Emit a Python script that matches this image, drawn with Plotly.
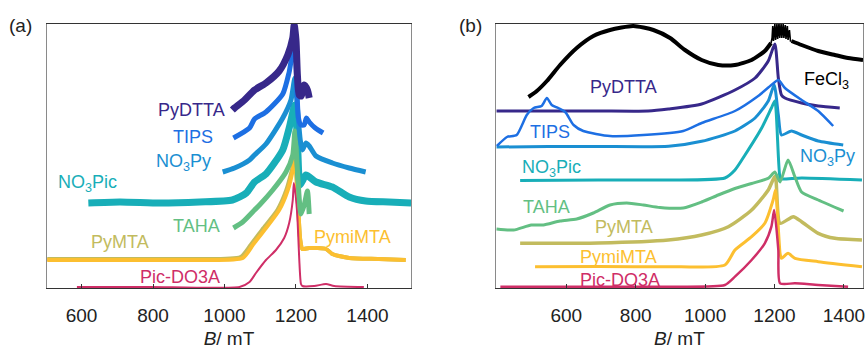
import plotly.graph_objects as go

# ---------------- Panel (a): field-swept spectra (B in mT, intensity in a.u., stacked) ----------------
a_pydtta_B = [1022, 1028, 1056, 1084, 1116, 1153, 1177, 1191, 1195, 1200, 1204, 1209, 1215, 1223, 1232, 1237]
a_pydtta_I = [178, 180, 188, 198, 205, 217, 233, 250, 263, 248, 213, 193, 192, 203, 198, 190]

a_tips_B = [1025, 1070, 1084, 1116, 1163, 1181, 1192, 1197, 1202, 1207, 1214, 1223, 1229, 1237, 1254, 1276]
a_tips_I = [150, 160, 169, 176, 194, 216, 236, 236, 203, 170, 163, 163, 170, 166, 160, 155]

a_no3py_B = [995, 1028, 1070, 1084, 1116, 1163, 1186, 1197, 1204, 1212, 1218, 1228, 1237, 1256, 1302, 1349, 1395]
a_no3py_I = [116, 120, 128, 133, 144, 170, 188, 210, 180, 148, 138, 145, 142, 132, 125, 120, 116]

a_no3pic_B = [619, 707, 819, 930, 1022, 1061, 1084, 1116, 1163, 1181, 1197, 1204, 1211, 1218, 1228, 1256, 1302, 1349, 1395, 1460, 1522]
a_no3pic_I = [85, 86, 85, 86, 88, 95, 106, 114, 138, 160, 183, 148, 103, 107, 113, 106, 101, 91, 87, 86, 85]

a_taha_B = [1025, 1051, 1084, 1098, 1135, 1172, 1191, 1197, 1204, 1214, 1223, 1232, 1237]
a_taha_I = [60, 66, 78, 83, 98, 116, 133, 157, 118, 74, 83, 97, 74]

a_pymta_B = [504, 651, 791, 930, 1045, 1073, 1109, 1148, 1173, 1190, 1197, 1205, 1212, 1218, 1237, 1284, 1302, 1349, 1432, 1507]
a_pymta_I = [29, 29, 29, 29, 31, 43, 60, 78, 98, 120, 131, 88, 48, 39, 40, 39, 34, 30, 29, 28]

a_pymimta_B = [504, 651, 791, 930, 1051, 1079, 1116, 1153, 1177, 1191, 1197, 1205, 1212, 1218, 1237, 1284, 1302, 1349, 1432, 1507]
a_pymimta_I = [28, 28, 28, 28, 30, 43, 60, 78, 98, 118, 132, 88, 48, 39, 40, 39, 34, 30, 29, 28]

a_picdo3a_B = [587, 791, 1042, 1070, 1088, 1116, 1144, 1167, 1181, 1191, 1194, 1199, 1204, 1209, 1214, 1218, 1251, 1284, 1307, 1390]
a_picdo3a_I = [1, 1, 1, 6, 15, 28, 38, 50, 65, 88, 105, 93, 71, 30, 4, 2, 2, 4, 2, 1]

# ---------------- Panel (b) ----------------
b_fecl3_B = [491, 515, 544, 582, 630, 678, 726, 793, 851, 899, 942, 990, 1038, 1086, 1134, 1172, 1190]
b_fecl3_I = [191, 197, 207, 223, 240, 252, 258, 262, 258, 250, 238, 228, 223, 223, 228, 237, 245]
# hyperfine spikes on top of the FeCl3 signal
b_fecl3_hf_B = [1190, 1193, 1195, 1197, 1201, 1203, 1207, 1209, 1213, 1215, 1219, 1221, 1225, 1227, 1231, 1233,
                1237, 1239, 1243, 1246, 1249]
b_fecl3_hf_I = [245, 250, 262, 247, 264, 248, 264, 249, 265, 250, 264, 250, 264, 250, 263, 249,
                262, 248, 258, 247, 247]
b_fecl3_tail_B = [1249, 1278, 1326, 1374, 1412, 1455]
b_fecl3_tail_I = [247, 243, 237, 233, 230, 228]

b_pydtta_B = [399, 549, 693, 836, 894, 990, 1086, 1144, 1182, 1201, 1211, 1220, 1230, 1278, 1326, 1388]
b_pydtta_I = [177, 177, 177, 177, 179, 184, 198, 210, 227, 244, 210, 193, 190, 185, 182, 180]

b_tips_B = [400, 429, 457, 486, 506, 529, 544, 558, 577, 597, 621, 649, 726, 822, 937, 990, 1086, 1153,
            1191, 1211, 1230, 1278, 1326, 1369]
b_tips_I = [142, 151, 153, 173, 180, 182, 190, 183, 180, 176, 163, 157, 152, 153, 157, 165, 177, 192,
            203, 208, 200, 188, 177, 162]

b_no3py_B = [399, 549, 693, 895, 990, 1086, 1144, 1182, 1199, 1211, 1220, 1249, 1278, 1326, 1398]
b_no3py_I = [141, 141.5, 141.5, 141.7, 146.7, 157, 170, 187, 203, 173, 153, 157, 153, 147, 143]

b_no3pic_B = [467, 693, 894, 1057, 1086, 1115, 1163, 1191, 1201, 1216, 1220, 1278, 1452]
b_no3pic_I = [107.5, 108, 108, 110, 118, 133, 160, 180, 187, 110, 109, 110, 108]

b_taha_B = [399, 448, 499, 534, 582, 630, 678, 726, 774, 822, 870, 937, 990, 1038, 1086, 1134, 1182,
            1201, 1216, 1239, 1259, 1278, 1326, 1399]
b_taha_I = [59, 58, 63, 63, 67, 69, 75, 83, 85, 83, 80.5, 80, 86, 93, 99.5, 104.5, 109.7,
            116, 106, 128, 111, 96, 88, 77]

b_pymta_B = [467, 693, 894, 990, 1067, 1134, 1182, 1202, 1216, 1254, 1278, 1326, 1374, 1452]
b_pymta_I = [44.7, 45, 48, 53, 61.3, 78, 98, 112, 64.7, 71.3, 66.3, 54.7, 49.7, 48]

b_pymimta_B = [510, 693, 894, 1057, 1086, 1134, 1172, 1196, 1203, 1216, 1220, 1239, 1259, 1326, 1452]
b_pymimta_I = [21.3, 21.5, 21.3, 23, 38, 51.3, 64.7, 88, 98, 34.7, 29.7, 34.7, 29.7, 26.3, 21.3]

b_picdo3a_B = [410, 693, 894, 1057, 1086, 1134, 1172, 1191, 1199, 1211, 1216, 1259, 1326, 1412]
b_picdo3a_I = [1.3, 1.3, 1.3, 3, 11.3, 28, 44.7, 61.3, 78, 38, 4.7, 4.7, 3, 1.3]

# Labels: (text, B, I)
a_labels = [("PyDTTA", 907, 178), ("TIPS", 912, 151), ("NO<sub>3</sub>Py", 884, 126),
            ("NO<sub>3</sub>Pic", 616, 105), ("TAHA", 921, 62), ("PyMTA", 707, 46),
            ("PymiMTA", 1358, 51), ("Pic-DO3A", 875, 11)]
b_labels = [("FeCl<sub>3</sub>", 1349, 208), ("PyDTTA", 764, 201), ("TIPS", 552, 156),
            ("NO<sub>3</sub>Pic", 557, 120), ("NO<sub>3</sub>Py", 1354, 131), ("TAHA", 543, 81),
            ("PyMTA", 767, 61), ("PymiMTA", 749, 31), ("Pic-DO3A", 754, 8)]

tick_vals = [600, 800, 1000, 1200, 1400]

colors = {
    "PyDTTA": "#37288a",
    "TIPS": "#1d6fe3",
    "NO3Py": "#1a8fd2",
    "NO3Pic": "#18aeb8",
    "TAHA": "#63bf83",
    "PyMTA": "#c2bb5e",
    "PymiMTA": "#fcbf30",
    "Pic-DO3A": "#cf2e67",
    "FeCl3": "#000000",
}
label_key = {"PyDTTA": "PyDTTA", "TIPS": "TIPS", "NO<sub>3</sub>Py": "NO3Py",
             "NO<sub>3</sub>Pic": "NO3Pic", "TAHA": "TAHA", "PyMTA": "PyMTA",
             "PymiMTA": "PymiMTA", "Pic-DO3A": "Pic-DO3A", "FeCl<sub>3</sub>": "FeCl3"}

fig = go.Figure()


def add(xs, ys, key, width, axis, shape="spline"):
    fig.add_trace(go.Scatter(
        x=xs, y=ys, mode="lines",
        line=dict(color=colors[key], width=width, shape=shape, smoothing=0.6),
        xaxis="x" if axis == 1 else "x2", yaxis="y" if axis == 1 else "y2",
        showlegend=False, hoverinfo="skip"))


# panel (a): draw bottom-up so upper traces overlay
add(a_pymta_B, a_pymta_I, "PyMTA", 4, 1)
add(a_pymimta_B, a_pymimta_I, "PymiMTA", 4, 1)
add(a_picdo3a_B, a_picdo3a_I, "Pic-DO3A", 2, 1)
add(a_no3pic_B, a_no3pic_I, "NO3Pic", 7, 1)
add(a_taha_B, a_taha_I, "TAHA", 5, 1)
add(a_no3py_B, a_no3py_I, "NO3Py", 5, 1)
add(a_tips_B, a_tips_I, "TIPS", 5, 1)
add(a_pydtta_B, a_pydtta_I, "PyDTTA", 7, 1)

# panel (b)
add(b_fecl3_B, b_fecl3_I, "FeCl3", 4, 2)
add(b_fecl3_hf_B, b_fecl3_hf_I, "FeCl3", 1.6, 2, shape="linear")
add(b_fecl3_tail_B, b_fecl3_tail_I, "FeCl3", 4, 2)
add(b_pydtta_B, b_pydtta_I, "PyDTTA", 3, 2)
add(b_no3py_B, b_no3py_I, "NO3Py", 3, 2)
add(b_tips_B, b_tips_I, "TIPS", 2.5, 2)
add(b_no3pic_B, b_no3pic_I, "NO3Pic", 3, 2)
add(b_pymta_B, b_pymta_I, "PyMTA", 3.5, 2)
add(b_taha_B, b_taha_I, "TAHA", 3, 2)
add(b_pymimta_B, b_pymimta_I, "PymiMTA", 3, 2)
add(b_picdo3a_B, b_picdo3a_I, "Pic-DO3A", 2.5, 2)

FONT = "Liberation Sans, Arial, sans-serif"
annotations = []
for labels, ax in ((a_labels, 1), (b_labels, 2)):
    for text, bx, iy in labels:
        key = label_key[text]
        annotations.append(dict(
            text=text, x=bx, y=iy,
            xref="x" if ax == 1 else "x2", yref="y" if ax == 1 else "y2",
            showarrow=False, xanchor="center", yanchor="middle",
            font=dict(family=FONT, size=18, color=colors[key])))

annotations.append(dict(text="(a)", x=21 / 866, y=0.996, xref="paper", yref="paper",
                        showarrow=False, xanchor="center", yanchor="middle",
                        font=dict(family=FONT, size=19, color="#222")))
annotations.append(dict(text="(b)", x=472 / 866, y=0.996, xref="paper", yref="paper",
                        showarrow=False, xanchor="center", yanchor="middle",
                        font=dict(family=FONT, size=19, color="#222")))

xcommon = dict(
    tickvals=tick_vals, ticks="inside", ticklen=4, tickcolor="#333",
    showline=True, mirror=True, linecolor="#333", linewidth=1.2,
    showgrid=False, zeroline=False,
    tickfont=dict(family=FONT, size=19, color="#222"),
    ticklabelstandoff=10, ticklabeloverflow="allow",
    title=dict(text="<i>B</i>/ mT", font=dict(family=FONT, size=19, color="#222"), standoff=9),
)
ycommon = dict(
    range=[0, 264], showticklabels=False, ticks="", showgrid=False, zeroline=False,
    showline=True, mirror=True, linecolor="#8a8a8a", linewidth=1.2,
)

fig.update_layout(
    width=866, height=349, autosize=False,
    margin=dict(l=0, r=0, t=24, b=61),
    paper_bgcolor="white", plot_bgcolor="white",
    xaxis=dict(domain=[47 / 866, 412 / 866], range=[503, 1522], anchor="y", **xcommon),
    yaxis=dict(domain=[0, 1], anchor="x", **ycommon),
    xaxis2=dict(domain=[497 / 866, 865 / 866], range=[397, 1455], anchor="y2", **xcommon),
    yaxis2=dict(domain=[0, 1], anchor="x2", **ycommon),
    annotations=annotations,
)

fig.write_html("out.html")
